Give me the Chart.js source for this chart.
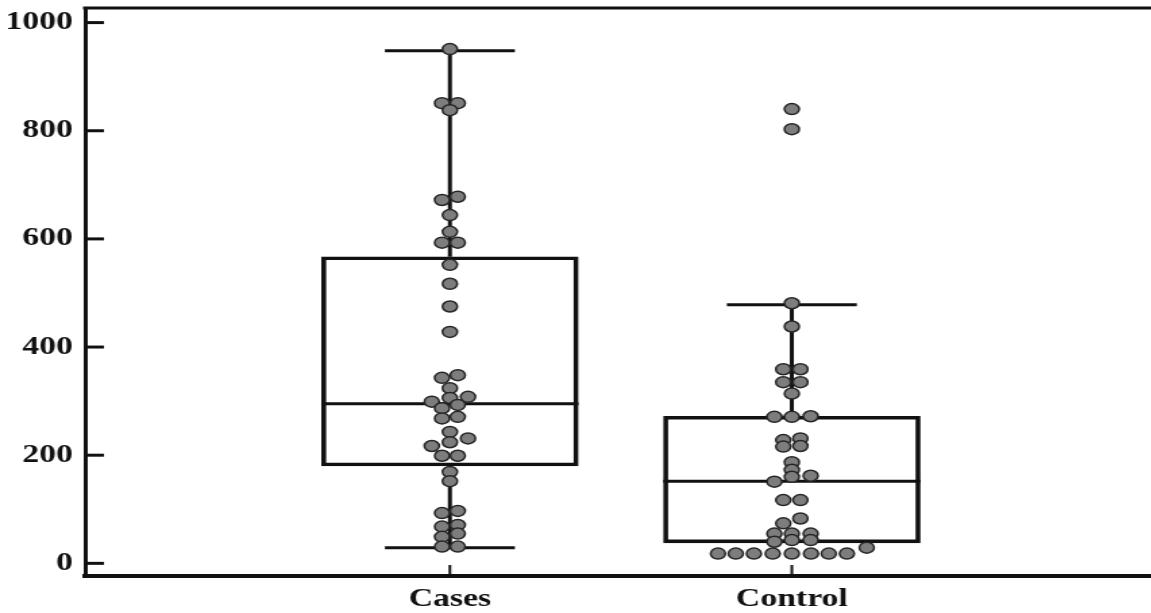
<!DOCTYPE html>
<html>
<head>
<meta charset="utf-8">
<script src="https://cdn.jsdelivr.net/npm/chart.js@4.4.1/dist/chart.umd.min.js"></script>
<style>
  html, body { margin: 0; padding: 0; background: #fff; overflow: hidden; }
  /* the source picture is stretched sideways, so the chart is drawn narrower and widened */
  #wrap { position: absolute; left: 0; top: 0; width: 853px; height: 613px;
          transform: scaleX(1.35); transform-origin: 0 0; }
</style>
</head>
<body>
<div id="wrap"><canvas id="myChart"></canvas></div>
<script>
// Data
const categories = ['Cases', 'Control'];
const categoryX = [1, 2];
const yTickValues = [0, 200, 400, 600, 800, 1000];

const casesValues = [951, 851, 851, 838, 672, 678, 644, 613, 593, 593,
                     552, 517, 475, 428, 343, 348, 324, 299, 306, 308,
                     287, 293, 268, 271, 243, 224, 217, 231, 199, 199,
                     169, 152, 93, 97, 68, 71, 49, 55, 31, 31];
const casesJitter = [0, -0.023, 0.023, 0, -0.023, 0.023, 0, 0, -0.023, 0.023,
                     0, 0, 0, 0, -0.023, 0.023, 0, -0.053, 0, 0.053,
                     -0.023, 0.023, -0.023, 0.023, 0, 0, -0.053, 0.053, -0.023, 0.023,
                     0, 0, -0.023, 0.023, -0.023, 0.023, -0.023, 0.023, -0.023, 0.023];

const controlValues = [840, 803, 481, 438, 359, 359, 335, 335, 314, 271,
                       271, 272, 228, 231, 216, 217, 187, 173, 160, 151,
                       162, 117, 117, 83, 74, 55, 55, 55, 40, 43,
                       43, 18, 18, 18, 18, 18, 18, 18, 18, 29];
const controlJitter = [0, 0, 0, 0, -0.025, 0.025, -0.025, 0.025, 0, -0.051,
                       0, 0.055, -0.025, 0.025, -0.025, 0.025, 0, 0, 0, -0.051,
                       0.055, -0.025, 0.025, 0.025, -0.025, -0.051, 0, 0.055, -0.051, 0,
                       0.055, -0.216, -0.164, -0.111, -0.056, 0, 0.056, 0.108, 0.161, 0.219];

const whiskerLow  = [29, null];
const boxLow      = [180, 38];
const medians     = [295, 152];
const boxHigh     = [567, 272];
const whiskerHigh = [948, 478];

// styles
const BOX_HALF = 0.376;
const CAP_HALF = 0.19;
const INK = '#111';
const tickFont = { family: 'Liberation Serif', weight: 'bold', size: 25 };

const dotSets = [
    { values: casesValues, jitter: casesJitter },
    { values: controlValues, jitter: controlJitter }
];

const datasets = [];

dotSets.forEach((s, i) => {
    datasets.push({
        type: 'scatter',
        data: s.values.map((v, k) => ({ x: categoryX[i] + s.jitter[k], y: v })),
        pointRadius: 5.5,
        pointHoverRadius: 5.5,
        pointBackgroundColor: '#7d7d7d',
        pointBorderColor: '#262626',
        pointBorderWidth: 1.5,
        order: 0
    });
});

datasets.push({
    type: 'bar',
    data: categoryX.map((c, i) => ({ x: c, y: [boxLow[i], boxHigh[i]] })),
    backgroundColor: 'rgba(0,0,0,0)',
    borderColor: INK,
    borderWidth: 3,
    borderSkipped: false,
    barThickness: 190,
    grouped: false,
    order: 2
});

function segment(p1, p2) {
    datasets.push({
        type: 'line',
        data: [p1, p2],
        borderColor: INK,
        borderWidth: 3,
        pointRadius: 0,
        fill: false,
        order: 1
    });
}

categoryX.forEach((c, i) => {
    segment({ x: c - BOX_HALF, y: medians[i] }, { x: c + BOX_HALF, y: medians[i] });
    if (whiskerHigh[i] != null) {
        segment({ x: c, y: boxHigh[i] }, { x: c, y: whiskerHigh[i] });
        segment({ x: c - CAP_HALF, y: whiskerHigh[i] }, { x: c + CAP_HALF, y: whiskerHigh[i] });
    }
    if (whiskerLow[i] != null) {
        segment({ x: c, y: boxLow[i] }, { x: c, y: whiskerLow[i] });
        segment({ x: c - CAP_HALF, y: whiskerLow[i] }, { x: c + CAP_HALF, y: whiskerLow[i] });
    }
});

// top frame line and the short inward tick marks
const framePlugin = {
    id: 'framePlugin',
    afterDraw(chart) {
        const { ctx, chartArea: { left, right, top, bottom }, scales: { x, y } } = chart;
        ctx.save();
        ctx.strokeStyle = INK;
        ctx.lineWidth = 3;
        ctx.beginPath();
        ctx.moveTo(left - 1.5, top);
        ctx.lineTo(right, top);
        ctx.stroke();
        yTickValues.forEach(v => {
            const py = y.getPixelForValue(v);
            ctx.beginPath();
            ctx.moveTo(left, py);
            ctx.lineTo(left + 14, py);
            ctx.stroke();
        });
        ctx.lineWidth = 2;
        categoryX.forEach(c => {
            const px = x.getPixelForValue(c);
            ctx.beginPath();
            ctx.moveTo(px, bottom);
            ctx.lineTo(px, bottom - 11);
            ctx.stroke();
        });
        ctx.restore();
    }
};

const config = {
    type: 'scatter',
    data: { datasets },
    options: {
        responsive: true,
        maintainAspectRatio: false,
        animation: false,
        events: [],
        layout: { autoPadding: false, padding: { top: 8, right: 0, bottom: 0, left: 0 } },
        plugins: { legend: { display: false }, tooltip: { enabled: false } },
        scales: {
            x: {
                type: 'linear',
                offset: false,
                min: -0.067,
                max: 3.052,
                grid: { display: false, drawTicks: false },
                border: { display: true, color: INK, width: 4 },
                afterBuildTicks: scale => { scale.ticks = categoryX.map(v => ({ value: v })); },
                ticks: {
                    autoSkip: false,
                    maxRotation: 0,
                    padding: 9,
                    color: INK,
                    font: tickFont,
                    callback: v => categories[categoryX.indexOf(v)] || ''
                },
                afterFit: scale => {
                    scale.height = 37;
                    scale.paddingLeft = 0; scale.paddingRight = 0;
                }
            },
            y: {
                type: 'linear',
                min: -23.4,
                max: 1027,
                grid: { display: false, drawTicks: false },
                border: { display: true, color: INK, width: 3 },
                afterBuildTicks: scale => { scale.ticks = yTickValues.map(v => ({ value: v })); },
                ticks: {
                    padding: 9,
                    color: INK,
                    font: tickFont,
                    callback: v => String(v)
                },
                afterFit: scale => {
                    scale.width = 63;
                    scale.paddingTop = 0; scale.paddingBottom = 0;
                }
            }
        }
    },
    plugins: [framePlugin]
};

const myChart = new Chart(document.getElementById('myChart'), config);
</script>
</body>
</html>
